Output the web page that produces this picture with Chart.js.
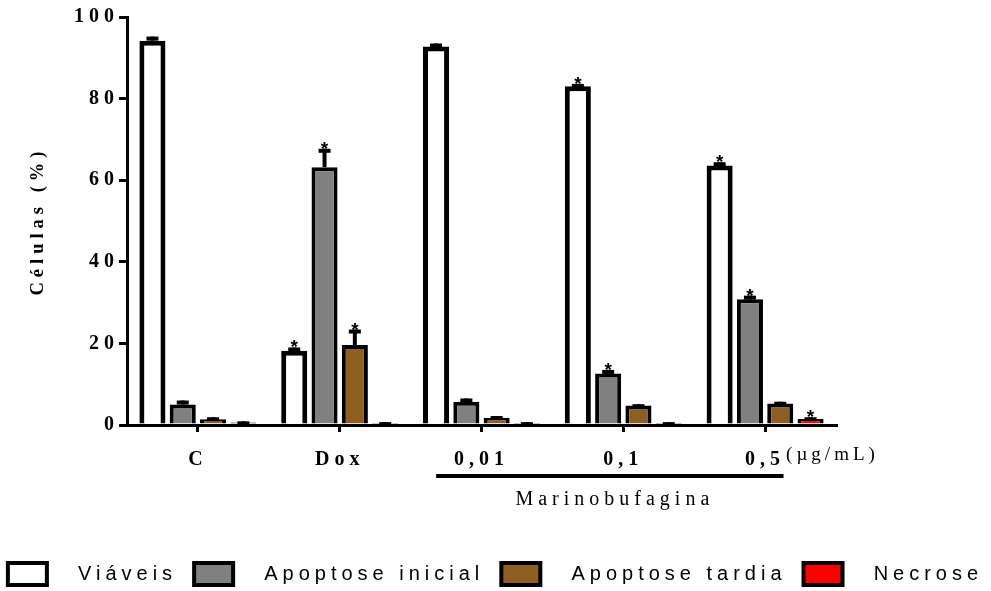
<!DOCTYPE html>
<html>
<head>
<meta charset="utf-8">
<script src="https://cdn.jsdelivr.net/npm/chart.js@4.4.1/dist/chart.umd.min.js"></script>
<style>
html, body { margin: 0; padding: 0; background: #fff; overflow: hidden; }
</style>
</head>
<body>
<canvas id="myChart" width="991" height="591"></canvas>
<script>
var groups = ["C", "Dox", "0,01", "0,1", "0,5"]
var seriesNames = ["Viáveis", "Apoptose inicial", "Apoptose tardia", "Necrose"]

var viaveis = [94.2, 18.2, 92.8, 83.0, 63.6]
var inicial = [5.0, 63.2, 5.7, 12.6, 30.8]
var tardia = [1.4, 19.6, 1.8, 4.8, 5.3]
var necrose = [0.6, 0.5, 0.5, 0.5, 1.5]

// upper error bars (SD)
var viaveisErr = [1.0, 0.8, 0.7, 0.6, 0.8]
var inicialErr = [1.0, 4.5, 0.8, 0.9, 0.9]
var tardiaErr = [0.5, 3.8, 0.4, 0.3, 0.4]
var necroseErr = [0.3, 0.2, 0.2, 0.2, 0.4]

// * = significant vs control
var viaveisSig = [0, 1, 0, 1, 1]
var inicialSig = [0, 1, 0, 1, 1]
var tardiaSig = [0, 1, 0, 0, 0]
var necroseSig = [0, 0, 0, 0, 1]

var yTicks = [0, 20, 40, 60, 80, 100]

var values = [viaveis, inicial, tardia, necrose]
var errs = [viaveisErr, inicialErr, tardiaErr, necroseErr]
var sigs = [viaveisSig, inicialSig, tardiaSig, necroseSig]
var fills = ["#ffffff", "#808080", "#8f5f21", "#ff0000"]

Chart.defaults.font.family = '"Liberation Serif", serif'
Chart.defaults.color = "#000"

// spaced-out lettering like the original figure (set whenever a font is set)
var canvas = document.getElementById("myChart")
var c2d = canvas.getContext("2d")
var fontDesc = Object.getOwnPropertyDescriptor(CanvasRenderingContext2D.prototype, "font")
Object.defineProperty(c2d, "font", {
    get: function () { return fontDesc.get.call(this) },
    set: function (v) {
        fontDesc.set.call(this, v)
        if (v.indexOf("Liberation Sans") >= 0) this.letterSpacing = v.indexOf("bold") >= 0 ? "0px" : "5px"
        else if (v.indexOf("19px") >= 0) this.letterSpacing = "4px"
        else this.letterSpacing = "5px"
    }
})

var extras = {
    id: "extras",
    afterDatasetsDraw: function (chart) {
        var ctx = chart.ctx
        var y = chart.scales.y
        ctx.save()
        ctx.fillStyle = "#000"
        for (var i = 0; i < values.length; i++) {
            var meta = chart.getDatasetMeta(i)
            meta.data.forEach(function (bar, j) {
                var top = y.getPixelForValue(values[i][j] + errs[i][j])
                ctx.fillRect(bar.x - 2, top, 4, bar.y - top)
                ctx.fillRect(bar.x - 6, top, 12, 4)
                if (sigs[i][j]) {
                    ctx.font = 'bold 19px "Liberation Sans"'
                    ctx.textAlign = "center"
                    ctx.textBaseline = "alphabetic"
                    ctx.fillText("*", bar.x, top + 6)
                }
            })
        }
        ctx.restore()
    },
    afterDraw: function (chart) {
        var ctx = chart.ctx
        var x = chart.scales.x
        var step = x.getPixelForValue(1) - x.getPixelForValue(0)
        var x0 = x.getPixelForValue(2) - 0.32 * step
        var x1 = x.getPixelForValue(4) + 0.13 * step
        ctx.save()
        ctx.fillStyle = "#000"
        ctx.fillRect(x0, 474, x1 - x0, 4)
        ctx.font = '20px "Liberation Serif"'
        ctx.textAlign = "center"
        ctx.textBaseline = "middle"
        ctx.fillText("Marinobufagina", (x0 + x1) / 2 + 5, 500)
        ctx.font = '19px "Liberation Serif"'
        ctx.textAlign = "left"
        ctx.fillText("(µg/mL)", x.getPixelForValue(4) + 21, 455)
        ctx.restore()
    }
}

var datasets = []
for (var i = 0; i < values.length; i++) {
    datasets.push({
        label: seriesNames[i],
        data: values[i],
        backgroundColor: fills[i],
        borderColor: "#000",
        borderWidth: i == 0 ? 5 : 4,
        categoryPercentage: 0.855,
        barPercentage: 0.86
    })
}

new Chart(canvas, {
    type: "bar",
    data: { labels: groups, datasets: datasets },
    plugins: [extras],
    options: {
        responsive: false,
        animation: false,
        layout: { padding: { top: 17, left: -25, right: -25, bottom: -4 } },
        plugins: {
            tooltip: { enabled: false },
            legend: {
                position: "bottom",
                labels: {
                    boxWidth: 39,
                    boxHeight: 22,
                    padding: 17,
                    color: "#000",
                    font: { family: '"Liberation Sans"', size: 20 },
                    generateLabels: function (chart) {
                        var items = Chart.defaults.plugins.legend.labels.generateLabels(chart)
                        items.forEach(function (it) { it.text = "  " + it.text; it.lineWidth = 4 })
                        return items
                    }
                }
            }
        },
        scales: {
            x: {
                afterFit: function (s) { s.height = 121 },
                grid: { display: true, drawOnChartArea: false, offset: false, tickLength: 7, lineWidth: 3, color: "#000" },
                border: { display: true, color: "#000", width: 3 },
                ticks: { padding: 16, font: { size: 20, weight: "bold" } }
            },
            y: {
                min: 0,
                max: 100,
                afterFit: function (s) { s.width = 152 },
                afterBuildTicks: function (s) { s.ticks = yTicks.map(function (v) { return { value: v } }) },
                grid: { display: true, drawOnChartArea: false, tickLength: 8, lineWidth: 3, color: "#000" },
                border: { display: true, color: "#000", width: 3 },
                ticks: { padding: 0, font: { size: 20, weight: "bold" } },
                title: { display: true, text: "Células (%)", padding: { top: 52, bottom: 0 }, font: { size: 18.5, weight: "bold" } }
            },
            y2: {
                position: "right",
                min: 0,
                max: 100,
                afterFit: function (s) { s.width = 180 },
                grid: { display: false },
                border: { display: false },
                ticks: { display: false }
            }
        }
    }
})
</script>
</body>
</html>
